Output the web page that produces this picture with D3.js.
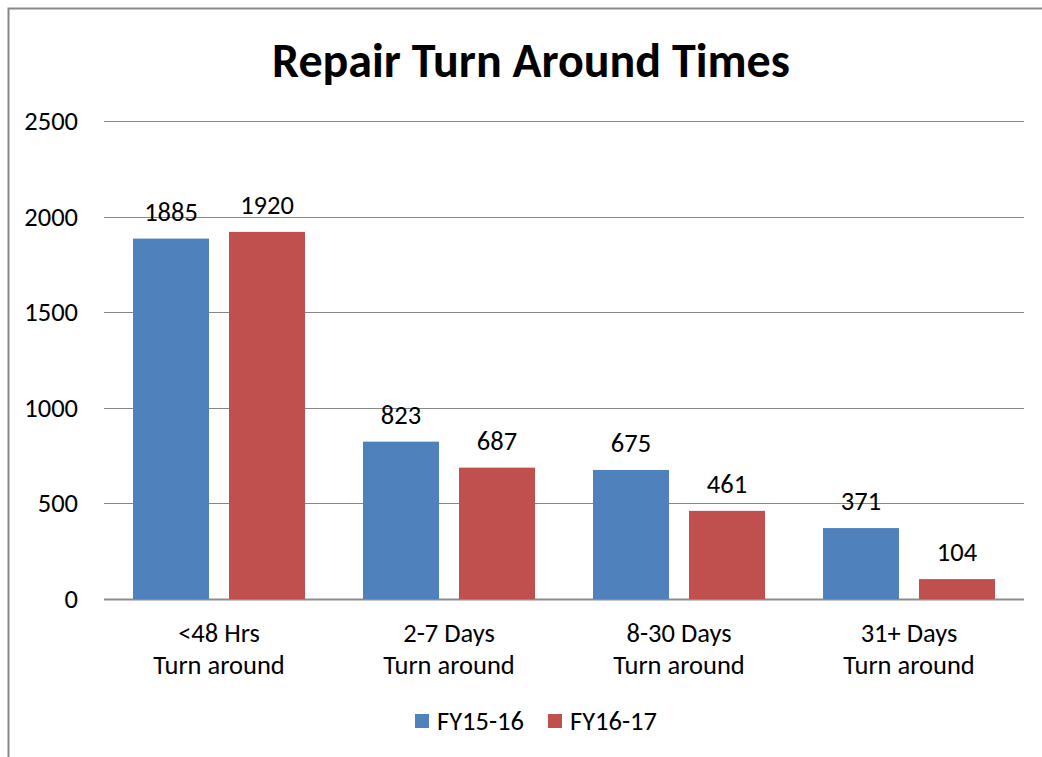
<!DOCTYPE html>
<html>
<head>
<meta charset="utf-8">
<script src="https://cdn.jsdelivr.net/npm/d3@7"></script>
<style>
  body { margin: 0; background: #fff; }
  svg { display: block; font-family: Carlito, Calibri, "Open Sans", sans-serif; }
</style>
</head>
<body>
<script>
const categories = [["<48 Hrs", "Turn around"], ["2-7 Days", "Turn around"], ["8-30 Days", "Turn around"], ["31+ Days", "Turn around"]];
const seriesNames = ["FY15-16", "FY16-17"];
const fy1516 = [1885, 823, 675, 371];
const fy1617 = [1920, 687, 461, 104];
const yTicks = [0, 500, 1000, 1500, 2000, 2500];
const colors = ["#4F81BD", "#C0504D"];

const W = 1042, H = 757;
const plot = {left: 104, right: 1024, top: 121, bottom: 599};

const svg = d3.select("body").append("svg")
  .attr("width", W)
  .attr("height", H);

// chart border
svg.append("rect")
  .attr("x", 8.5).attr("y", 8.5)
  .attr("width", W + 20).attr("height", H + 20)
  .attr("fill", "none")
  .attr("stroke", "#888")
  .attr("stroke-width", 2);

svg.append("text")
  .attr("x", 531).attr("y", 77)
  .attr("text-anchor", "middle")
  .attr("font-size", "48px")
  .attr("font-weight", "bold")
  .text("Repair Turn Around Times");

const y = d3.scaleLinear().domain([0, 2500]).range([plot.bottom, plot.top]);
const x0 = d3.scaleBand()
  .domain(d3.range(categories.length))
  .range([plot.left, plot.right]);
const x1 = d3.scaleBand()
  .domain(d3.range(seriesNames.length))
  .range([0, x0.bandwidth()])
  .paddingInner(20 / 96)
  .paddingOuter(29 / 96);

// gridlines
svg.append("g").selectAll("line")
  .data(yTicks)
  .enter().append("line")
    .attr("x1", plot.left).attr("x2", plot.right)
    .attr("y1", d => Math.round(y(d)) + 0.5)
    .attr("y2", d => Math.round(y(d)) + 0.5)
    .attr("stroke", d => d === 0 ? "#8c8c8c" : "#888")
    .attr("stroke-width", d => d === 0 ? 2 : 1);

svg.append("g").selectAll("text")
  .data(yTicks)
  .enter().append("text")
    .attr("x", 78)
    .attr("y", d => y(d) + 9)
    .attr("text-anchor", "end")
    .attr("font-size", "26.5px")
    .text(d => d);

const data = categories.map((c, i) => ({i: i, values: [fy1516[i], fy1617[i]]}));

const groups = svg.append("g").selectAll("g")
  .data(data)
  .enter().append("g")
    .attr("transform", d => `translate(${x0(d.i)},0)`);

groups.selectAll("rect")
  .data(d => d.values.map((v, s) => ({v: v, s: s})))
  .enter().append("rect")
    .attr("x", d => x1(d.s))
    .attr("width", x1.bandwidth())
    .attr("y", d => y(d.v))
    .attr("height", d => y(0) - y(d.v))
    .attr("fill", d => colors[d.s]);

groups.selectAll("text.val")
  .data(d => d.values.map((v, s) => ({v: v, s: s})))
  .enter().append("text")
    .attr("class", "val")
    .attr("x", d => x1(d.s) + x1.bandwidth() / 2)
    .attr("y", d => y(d.v) - 18)
    .attr("text-anchor", "middle")
    .attr("font-size", "26.5px")
    .text(d => d.v);

// category labels
const cat = svg.append("g").selectAll("text")
  .data(categories)
  .enter().append("text")
    .attr("x", (d, i) => x0(i) + x0.bandwidth() / 2)
    .attr("y", 642)
    .attr("text-anchor", "middle")
    .attr("font-size", "26.5px");
cat.append("tspan").attr("x", (d, i) => x0(i) + x0.bandwidth() / 2).text(d => d[0]);
cat.append("tspan").attr("x", (d, i) => x0(i) + x0.bandwidth() / 2).attr("dy", 32).text(d => d[1]);

// legend
const legendX = [415, 548];
const legend = svg.append("g").selectAll("g")
  .data(seriesNames)
  .enter().append("g")
    .attr("transform", (d, i) => `translate(${legendX[i]},714)`);
legend.append("rect")
  .attr("width", 14).attr("height", 14)
  .attr("fill", (d, i) => colors[i]);
legend.append("text")
  .attr("x", 22).attr("y", 16)
  .attr("font-size", "26.5px")
  .text(d => d);
</script>
</body>
</html>
